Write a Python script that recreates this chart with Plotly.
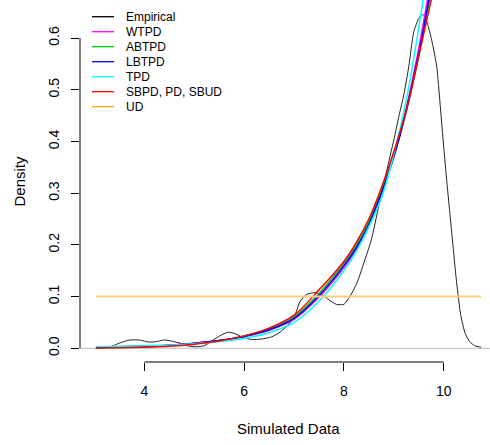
import plotly.graph_objects as go

# ---------------- data ----------------
grid_x = [3.03, 3.5, 4.0, 4.5, 5.0, 5.5, 6.0, 6.5, 7.0, 7.5, 8.0, 8.25, 8.5, 8.75,
          9.0, 9.25, 9.5, 9.75, 10.0]
wtpd = [0.002, 0.003, 0.004, 0.006, 0.010, 0.015, 0.023, 0.035, 0.056, 0.099, 0.156,
        0.192, 0.238, 0.300, 0.372, 0.465, 0.580, 0.715, 0.850]
abtpd = [0.0015, 0.0025, 0.0035, 0.0055, 0.009, 0.015, 0.024, 0.038, 0.061, 0.106,
         0.165, 0.200, 0.245, 0.305, 0.372, 0.458, 0.565, 0.690, 0.820]
lbtpd = [0.002, 0.003, 0.004, 0.006, 0.010, 0.015, 0.023, 0.036, 0.058, 0.102, 0.160,
         0.195, 0.240, 0.300, 0.370, 0.460, 0.570, 0.700, 0.830]
tpd = [0.003, 0.004, 0.005, 0.006, 0.009, 0.013, 0.019, 0.030, 0.050, 0.091, 0.150,
       0.188, 0.235, 0.290, 0.375, 0.480, 0.620, 0.780, 0.950]
sbpd = [0.0005, 0.001, 0.002, 0.004, 0.008, 0.014, 0.024, 0.039, 0.064, 0.113, 0.168,
        0.205, 0.250, 0.310, 0.380, 0.460, 0.565, 0.674, 0.790]

ud_x = [3.03, 10.75]
ud_y = [0.1, 0.1]

emp_x = [3.03, 3.2, 3.35, 3.5, 3.7, 3.9, 4.1, 4.25, 4.4, 4.55, 4.75, 4.9, 5.05, 5.2,
         5.38, 5.55, 5.68, 5.8, 5.98, 6.15, 6.35, 6.55, 6.7, 6.85, 7.0, 7.12, 7.25,
         7.4, 7.55, 7.7, 7.85, 8.0, 8.12, 8.26, 8.42, 8.55, 8.7, 8.85, 9.0, 9.1, 9.2,
         9.3, 9.4, 9.5, 9.58, 9.67, 9.76, 9.86, 9.93, 10.0, 10.06, 10.16, 10.26, 10.34,
         10.43, 10.52, 10.62, 10.75]
emp_y = [0.000, 0.001, 0.004, 0.010, 0.016, 0.016, 0.012, 0.013, 0.016, 0.014, 0.009,
         0.004, 0.003, 0.005, 0.016, 0.026, 0.031, 0.029, 0.021, 0.017, 0.018, 0.022,
         0.030, 0.042, 0.060, 0.090, 0.104, 0.1075, 0.104, 0.094, 0.085, 0.085, 0.100,
         0.126, 0.171, 0.210, 0.276, 0.340, 0.403, 0.448, 0.490, 0.545, 0.612, 0.638,
         0.646, 0.629, 0.596, 0.545, 0.470, 0.390, 0.325, 0.225, 0.126, 0.065, 0.029,
         0.013, 0.005, 0.002]

x_ticks = [4, 6, 8, 10]
y_ticks = [0.0, 0.1, 0.2, 0.3, 0.4, 0.5, 0.6]
y_tick_text = ["0.0", "0.1", "0.2", "0.3", "0.4", "0.5", "0.6"]

names = ["Empirical", "WTPD", "ABTPD", "LBTPD", "TPD", "SBPD, PD, SBUD", "UD"]
colors = ["black", "magenta", "#00CD00", "blue", "cyan", "red", "orange"]

# ---------------- figure ----------------
W, H = 490, 445
ML, MB = 80, 83
PW, PH = W - ML, H - MB
FONT = "Liberation Sans, Arial, Helvetica, sans-serif"

def px2x(px):
    return (px - ML) / PW

def py2y(py):
    return 1 - py / PH

fig = go.Figure()
fig.add_trace(go.Scatter(x=emp_x, y=emp_y, mode="lines", name=names[0],
                         line=dict(color="#222222", width=1, shape="spline", smoothing=0.6)))
for ys, nm, c in zip([wtpd, abtpd, lbtpd, tpd, sbpd], names[1:6], colors[1:6]):
    fig.add_trace(go.Scatter(x=grid_x, y=ys, mode="lines", name=nm,
                             line=dict(color=c, width=1.5, shape="spline", smoothing=1.0)))
fig.add_trace(go.Scatter(x=ud_x, y=ud_y, mode="lines", name=names[6],
                         line=dict(color="#FFD07A", width=2)))

shapes = []
# zero line (gray)
shapes.append(dict(type="line", xref="paper", yref="y", x0=0, x1=1, y0=0, y1=0,
                   line=dict(color="#BEBEBE", width=1), layer="below"))
# R-style axis lines
shapes.append(dict(type="line", xref="x", yref="paper", x0=x_ticks[0], x1=x_ticks[-1],
                   y0=0, y1=0, line=dict(color="black", width=1)))
shapes.append(dict(type="line", xref="paper", yref="y", x0=0, x1=0,
                   y0=y_ticks[0], y1=y_ticks[-1], line=dict(color="black", width=1)))

annotations = []
# manual legend (no box)
leg_y0, leg_dy = 16.7, 15.0
for i, (nm, c) in enumerate(zip(names, colors)):
    py = leg_y0 + i * leg_dy
    shapes.append(dict(type="line", xref="paper", yref="paper",
                       x0=px2x(92), x1=px2x(114), y0=py2y(py), y1=py2y(py),
                       line=dict(color=c, width=1.3)))
    annotations.append(dict(xref="paper", yref="paper", x=px2x(124), y=py2y(py),
                            text=nm, showarrow=False, xanchor="left", yanchor="middle",
                            font=dict(size=12, color="black", family=FONT)))
# axis titles
annotations.append(dict(xref="paper", yref="paper", x=px2x(288), y=py2y(428),
                        text="Simulated Data", showarrow=False, xanchor="center",
                        yanchor="middle", font=dict(size=15, color="black", family=FONT)))
annotations.append(dict(xref="paper", yref="paper", x=px2x(18.5), y=py2y(181),
                        text="Density", showarrow=False, textangle=-90, xanchor="center",
                        yanchor="middle", font=dict(size=15, color="black", family=FONT)))

fig.update_layout(
    width=W, height=H,
    margin=dict(l=ML, r=0, t=0, b=MB, pad=0),
    paper_bgcolor="white", plot_bgcolor="white",
    showlegend=False,
    font=dict(family=FONT, size=14, color="black"),
    shapes=shapes, annotations=annotations,
    xaxis=dict(range=[2.711, 10.928], tickvals=x_ticks, ticktext=[str(v) for v in x_ticks],
               ticks="outside", ticklen=8, tickwidth=1, tickcolor="black",
               ticklabelstandoff=8,
               showgrid=False, zeroline=False, showline=False,
               tickfont=dict(size=14, family=FONT, color="black")),
    yaxis=dict(range=[-0.0265, 0.6737], tickvals=y_ticks, ticktext=y_tick_text,
               tickangle=-90, ticklabelstandoff=6,
               ticks="outside", ticklen=8, tickwidth=1, tickcolor="black",
               showgrid=False, zeroline=False, showline=False,
               tickfont=dict(size=14, family=FONT, color="black")),
)

fig.write_html("out.html")
